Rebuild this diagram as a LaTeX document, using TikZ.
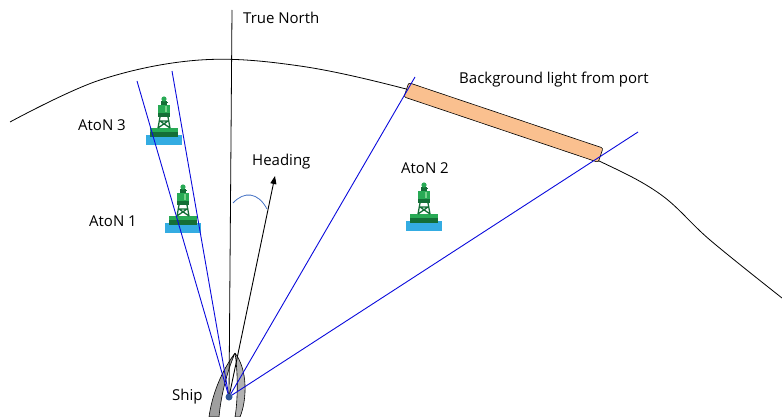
\documentclass[tikz,border=0pt]{standalone}
\usepackage{fontspec}
\setmainfont{Open Sans}
\usetikzlibrary{arrows.meta}
\definecolor{sightblue}{RGB}{10,10,220}
\definecolor{arcblue}{RGB}{68,114,196}
\definecolor{dotblue}{RGB}{47,85,151}
\definecolor{peach}{RGB}{250,192,143}
\definecolor{water}{RGB}{52,172,226}
\definecolor{buoygreen}{RGB}{40,170,85}
\definecolor{buoydark}{RGB}{20,110,55}
\definecolor{buoylight}{RGB}{120,210,140}
\tikzset{
  label/.style={font=\fontsize{15}{17}\selectfont, inner sep=0pt, anchor=base},
  sight/.style={sightblue, line width=0.9pt},
  buoy/.pic={
    \fill[water] (-18,0) rectangle (18,10);
    \fill[buoydark] (-14,-7) rectangle (14,2);
    \fill[buoygreen] (-14,-7) rectangle (14,-3);
    \draw[buoydark, line width=1.3pt] (-6,-7) -- (-4,-18) (6,-7) -- (4,-18)
      (-6,-7) -- (4,-14) (6,-7) -- (-4,-14) (-5,-14) -- (5,-14);
    \fill[buoygreen] (-6,-30) rectangle (6,-18);
    \fill[buoydark] (-6,-22) rectangle (6,-18);
    \fill[buoylight] (1,-29) rectangle (2.5,-23);
    \fill[buoydark] (-3,-34) rectangle (3,-30);
    \fill[buoygreen] (0,-36) circle (2.6);
    \fill[buoydark] (-3.5,-33) rectangle (3.5,-32);
  },
}
\begin{document}
\begin{tikzpicture}[x=1pt, y=-1pt]
\useasboundingbox (0,0) rectangle (782,417);

% horizon / coastline
\draw[line width=0.8pt] plot[smooth, tension=0.6] coordinates
  {(10,122) (100,80) (200,60) (300,66) (410,90) (500,118) (597,160) (660,194) (710,240) (782,298)};

% background light
\node[draw, line width=0.6pt, fill=peach, rounded corners=2pt, rotate=-18.6,
      minimum width=205pt, minimum height=15pt, inner sep=0pt] (port) at (503.5,122.5) {};

% buoys
\pic at (164,135) {buoy};
\pic at (183,223) {buoy};
\pic at (424,221) {buoy};

% ship
\coordinate (ship) at (229,397);
\fill[gray!75, draw=black, line width=0.6pt]
  (235,353) .. controls (221,372) and (212,395) .. (209,417)
  -- (219,417) .. controls (221,395) and (227,372) .. (235,353);
\fill[gray!60, draw=black, line width=0.6pt]
  (235,353) .. controls (248,370) and (247,400) .. (240,417)
  -- (235,417) .. controls (238,400) and (238,372) .. (235,353);

% lines of sight
\coordinate (s1) at (137,81);
\coordinate (s2) at (172,71);
\coordinate (s3) at (415,77);
\coordinate (s4) at (638,132);
\draw[sight] (ship) -- (s1);
\draw[sight] (ship) -- (s2);
\draw[sight] (ship) -- (s3);
\draw[sight] (ship) -- (s4);

% true north and heading
\coordinate (north) at (232,10);
\coordinate (head) at (275,176);
\draw[line width=0.8pt] (ship) -- (north);
\draw[line width=0.9pt, -{Triangle[length=8pt, width=6pt]}] (ship) -- (head);
\draw[arcblue, line width=0.8pt] (233,203) .. controls (244,191) and (258,192) .. (267,209);

\fill[dotblue] (ship) circle (3.5);

% labels
\node[label, anchor=base west] (tn) at (243,24) {True North};
\node[label, anchor=base west] (hd) at (252,166) {Heading};
\node[label, anchor=base west] (bg) at (459,84) {Background light from port};
\node[label, anchor=base west] (a2) at (401,174) {AtoN 2};
\node[label, anchor=base west] (a1) at (89,226) {AtoN 1};
\node[label, anchor=base west] (a3) at (78,131) {AtoN 3};
\node[label, anchor=base west] (sh) at (172,400) {Ship};
\end{tikzpicture}
\end{document}
